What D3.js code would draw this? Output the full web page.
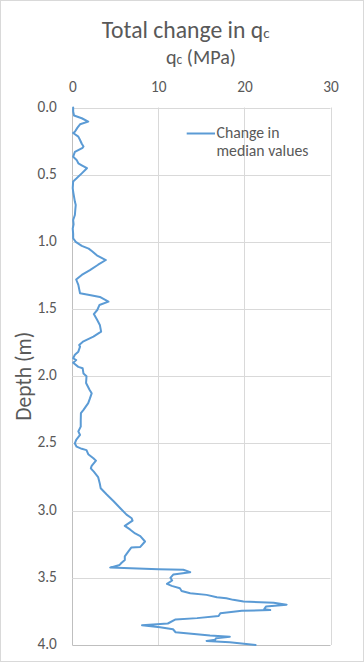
<!DOCTYPE html>
<html>
<head>
<meta charset="utf-8">
<script src="https://cdn.jsdelivr.net/npm/d3@7"></script>
<style>
  html, body { margin: 0; padding: 0; background: #fff; }
  svg text { font-family: Carlito, Lato, "Open Sans", sans-serif; fill: #595959; }
</style>
</head>
<body>
<svg id="chart" width="364" height="662"></svg>
<script>
const depth = [0.00,0.03,0.06,0.08,0.105,0.125,0.15,0.18,0.19,0.217,0.242,0.27,0.29,0.30,0.33,0.366,0.39,0.415,0.43,0.452,0.49,0.527,0.55,0.60,0.627,0.70,0.725,0.76,0.80,0.837,0.87,0.90,0.94,0.973,1.00,1.03,1.05,1.07,1.10,1.135,1.17,1.21,1.246,1.28,1.32,1.383,1.395,1.41,1.445,1.47,1.507,1.537,1.576,1.618,1.668,1.705,1.74,1.767,1.78,1.817,1.84,1.866,1.88,1.90,1.93,1.94,1.98,2.00,2.05,2.10,2.127,2.165,2.20,2.25,2.275,2.33,2.375,2.41,2.437,2.474,2.50,2.524,2.54,2.55,2.58,2.61,2.628,2.667,2.685,2.71,2.75,2.80,2.834,2.88,2.93,2.98,3.03,3.057,3.074,3.114,3.14,3.17,3.19,3.23,3.27,3.275,3.305,3.34,3.367,3.39,3.404,3.424,3.436,3.44,3.458,3.475,3.50,3.52,3.545,3.56,3.578,3.598,3.615,3.627,3.645,3.652,3.664,3.677,3.685,3.70,3.714,3.733,3.74,3.745,3.764,3.784,3.80,3.81,3.84,3.853,3.868,3.883,3.905,3.93,3.938,3.95,3.96,3.97,3.98,4.00];
const qcChange = [0.1,0.1,0.2,1.1,1.85,0.9,0.6,0.3,0.1,0.7,0.9,1.1,1.3,1.2,0.3,0.1,0.5,0.7,1.1,1.7,1.1,0.5,0.1,0.05,0.1,0.3,0.4,0.35,0.3,0.1,0.15,0.05,0.1,0.1,0.4,1.1,1.9,2.3,2.85,3.9,3.0,2.05,1.1,0.45,0.7,0.9,2.0,3.2,4.2,3.15,2.9,2.5,2.85,3.2,3.35,2.45,1.3,0.8,0.9,0.7,0.3,0.1,0.45,0.1,0.7,1.2,1.3,1.65,1.6,2.0,2.25,2.05,1.85,1.3,1.0,0.98,0.98,0.7,0.9,0.45,0.3,0.5,1.1,1.65,1.85,2.45,2.75,2.25,2.15,2.5,3.0,3.2,3.3,4.0,4.8,5.55,6.3,6.9,7.0,6.1,6.7,7.3,7.9,8.45,7.9,6.85,6.5,6.1,6.1,5.7,5.5,4.4,10.0,12.9,13.7,11.75,11.4,11.6,11.0,11.55,12.5,12.7,13.7,15.6,16.8,17.9,18.7,19.9,23.4,24.9,22.5,22.3,23.0,19.7,17.2,17.0,14.5,12.0,11.1,8.1,10.2,11.7,12.0,16.0,18.3,16.7,16.6,15.6,18.3,21.3];
const xTicks = [0, 10, 20, 30];
const yTicks = [0.0, 0.5, 1.0, 1.5, 2.0, 2.5, 3.0, 3.5, 4.0];
const titleMain = "Total change in q";
const titleSub = "c";
const xTitleMain = "q";
const xTitleSub = "c";
const xTitleRest = " (MPa)";
const yTitle = "Depth (m)";
const legendLines = ["Change in", "median values"];

const svg = d3.select("#chart");
const W = 364, H = 662;
const plot = { left: 72.3, right: 330.5, top: 107.5, bottom: 645 };

// scale a text element's font-size so that its rendered width matches a target
function fitWidth(sel, target) {
  const node = sel.node();
  const w = node.getComputedTextLength ? node.getComputedTextLength() : node.getBBox().width;
  const fs = parseFloat(sel.style("font-size"));
  if (w > 0) {
    const k = target / w;
    sel.style("font-size", (fs * k) + "px");
    sel.selectAll("tspan").each(function() {
      const t = d3.select(this);
      const f = parseFloat(this.style.fontSize);
      if (!isNaN(f)) t.style("font-size", (f * k) + "px");
    });
  }
  return sel;
}

svg.append("rect").attr("x", 0.5).attr("y", 0.5).attr("width", W - 1).attr("height", H - 1)
  .attr("fill", "#fff").attr("stroke", "#d9d9d9");

const x = d3.scaleLinear().domain([0, 30]).range([plot.left, plot.right]);
const y = d3.scaleLinear().domain([0, 4]).range([plot.top, plot.bottom]);

// grid
const g = svg.append("g");
g.selectAll(".vg").data(xTicks).join("line")
  .attr("x1", d => Math.round(x(d)) + 0.5).attr("x2", d => Math.round(x(d)) + 0.5)
  .attr("y1", plot.top).attr("y2", plot.bottom)
  .attr("stroke", d => d === 0 ? "#bfbfbf" : "#d9d9d9").attr("stroke-width", 1);
g.selectAll(".hg").data(yTicks).join("line")
  .attr("x1", plot.left).attr("x2", plot.right)
  .attr("y1", d => Math.round(y(d)) + 0.5).attr("y2", d => Math.round(y(d)) + 0.5)
  .attr("stroke", d => d === 4 ? "#bfbfbf" : "#d9d9d9").attr("stroke-width", 1);

// x axis (top)
const xAxis = d3.axisTop(x).tickValues(xTicks).tickFormat(d3.format("d")).tickSize(0).tickPadding(0);
const xg = svg.append("g").attr("transform", `translate(0, 91.7)`).call(xAxis);
xg.select(".domain").remove();
xg.selectAll("text").attr("fill", "#595959").attr("dy", 0)
  .style("font-family", "Carlito, Lato, sans-serif").style("font-size", "13.5px");

// y axis
const yAxis = d3.axisLeft(y).tickValues(yTicks).tickFormat(d3.format(".1f")).tickSize(0).tickPadding(0);
const yg = svg.append("g").attr("transform", `translate(56.8, 0)`).call(yAxis);
yg.select(".domain").remove();
yg.selectAll("text").attr("fill", "#595959").attr("dy", "3.5px")
  .style("font-family", "Carlito, Lato, sans-serif").style("font-size", "13.5px");

// fit tick label size to the reference width of "0.0"
{
  const first = yg.select(".tick text");
  const w = first.node().getComputedTextLength();
  const fs = 13.5 * 19.4 / w;
  xg.selectAll("text").style("font-size", fs + "px");
  yg.selectAll("text").style("font-size", fs + "px");
}

// line
const line = d3.line().x((d, i) => x(qcChange[i])).y(d => y(d));
svg.append("path").datum(depth)
  .attr("d", line).attr("fill", "none")
  .attr("stroke", "#5b9bd5").attr("stroke-width", 2)
  .attr("stroke-linejoin", "round").attr("stroke-linecap", "round");

// title
const t = svg.append("text").attr("x", 101.7).attr("y", 38.3).attr("text-anchor", "start")
  .style("font-size", "22px");
t.append("tspan").text(titleMain);
t.append("tspan").text(titleSub).style("font-size", "14px");
fitWidth(t, 168);

// x title
const xt = svg.append("text").attr("x", 166).attr("y", 63.5).attr("text-anchor", "start")
  .style("font-size", "18px");
xt.append("tspan").text(xTitleMain);
xt.append("tspan").text(xTitleSub).style("font-size", "12px");
xt.append("tspan").text(xTitleRest);
fitWidth(xt, 70);

// y title
const yt = svg.append("text").attr("transform", `translate(31, ${(plot.top + plot.bottom) / 2}) rotate(-90)`)
  .attr("text-anchor", "middle").style("font-size", "18px").text(yTitle);
fitWidth(yt, 89);

// legend
svg.append("line").attr("x1", 186.7).attr("x2", 215).attr("y1", 133.5).attr("y2", 133.5)
  .attr("stroke", "#5b9bd5").attr("stroke-width", 2);
const leg = svg.selectAll(".leg").data(legendLines).join("text")
  .attr("class", "leg")
  .attr("x", 216.5).attr("y", (d, i) => 137.5 + i * 18.7)
  .style("font-size", "14px").text(d => d);
{
  const w = leg.filter((d, i) => i === 1).node().getComputedTextLength();
  leg.style("font-size", (14 * 92 / w) + "px");
}
</script>
</body>
</html>
